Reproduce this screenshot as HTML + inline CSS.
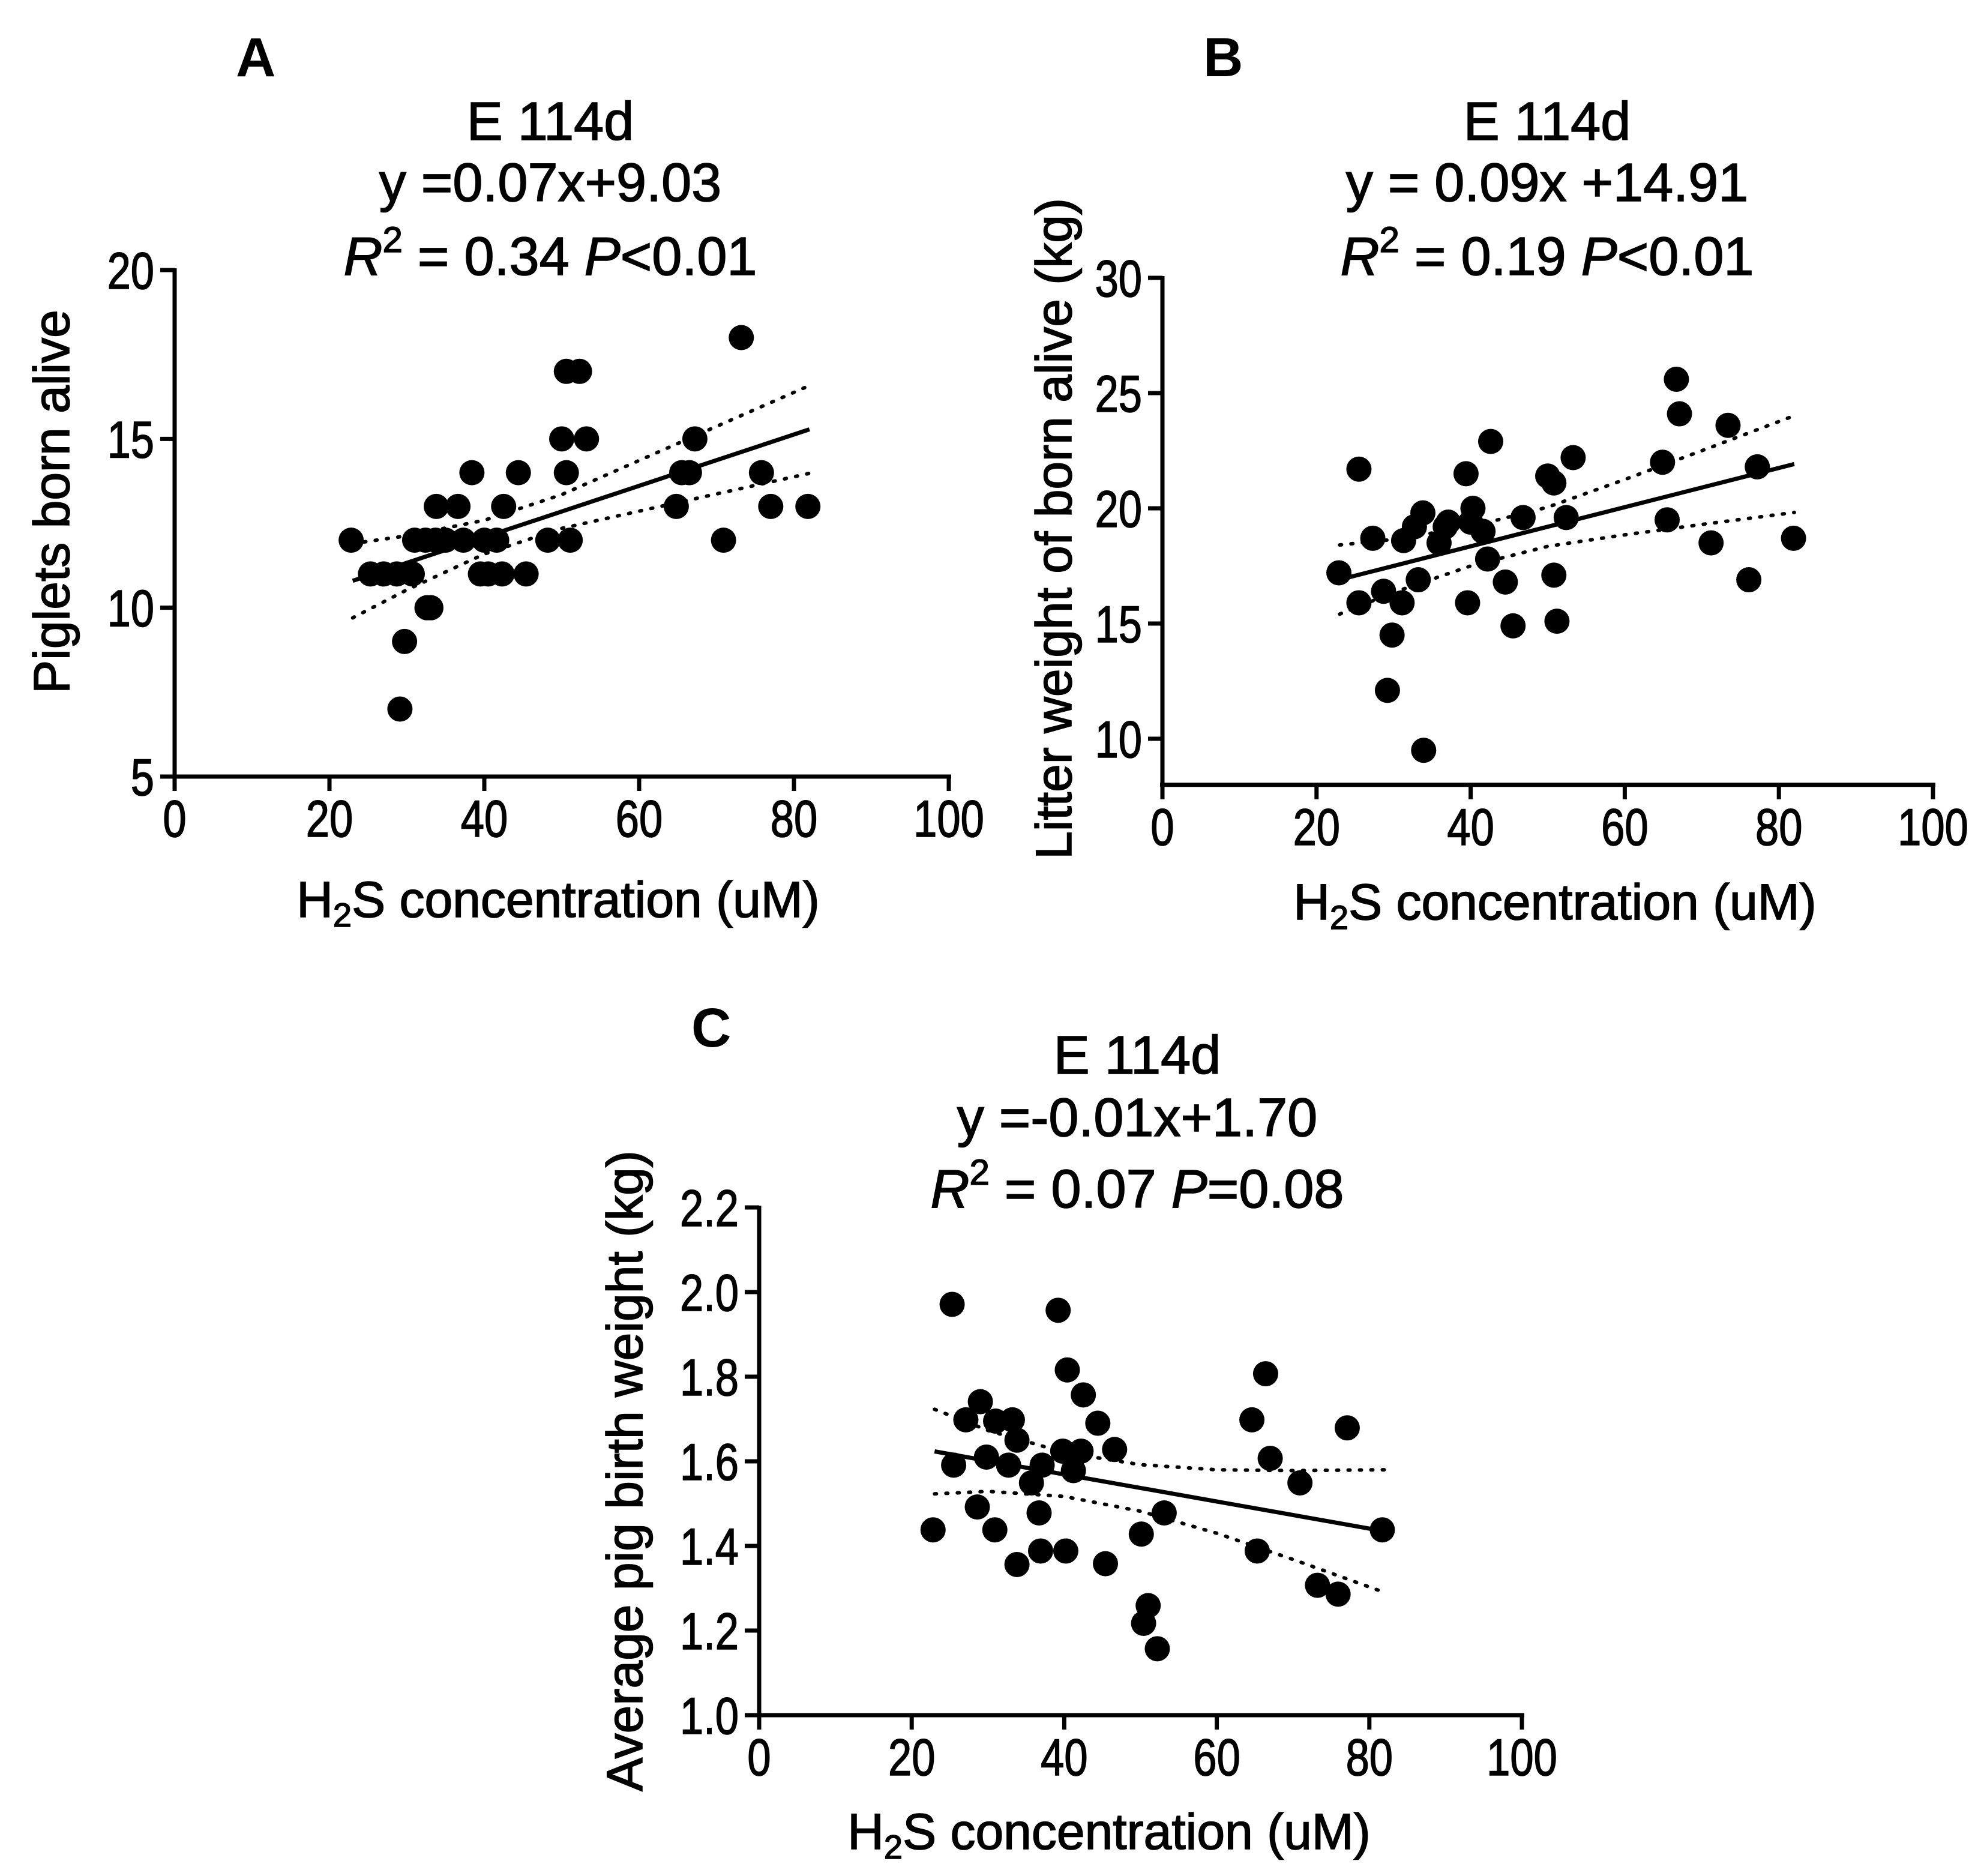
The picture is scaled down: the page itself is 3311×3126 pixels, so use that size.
<!DOCTYPE html>
<html><head><meta charset="utf-8"><style>
html,body{margin:0;padding:0;background:#fff;}
svg{display:block;}
text{font-family:"Liberation Sans",Arial,sans-serif;fill:#000;}
.bold1{stroke:#000;stroke-width:1.6px;}
</style></head><body>
<svg id="fig" width="3311" height="3126" viewBox="0 0 3311 3126" xmlns="http://www.w3.org/2000/svg"></svg>
<script>
// ---------- Panel A data ----------
const aX = [22.8,25.3,27,28.7,30.7,29.7,29.1,32.6,33.1,31,32.4,33.7,35,37.3,40,41.6,33.8,36.6,42.5,38.4,44.4,39.5,40.5,42.3,45.4,48.2,51.1,50,53.2,50.6,50.6,52.3,64.8,65.5,66.5,67.2,73.2,70.9,75.8,77,81.8];
const aY = [12,11,11,11,11,9,7,10,10,12,12,12,12,12,12,12,13,13,13,14,14,11,11,11,11,12,12,15,15,14,17,17,13,14,14,15,18,12,14,13,13];
const aFit = [0.076, 9.05];
const aCiX = [23,30,40,50,60,70,82];
const aCiUpper = [11.9,12.13,12.59,13.35,14.36,15.37,16.58];
const aCiLower = [9.7,10.53,11.59,12.35,12.86,13.37,13.98];
const aYTicks = [5,10,15,20];
const aYTickLabels = ["5","10","15","20"];
// ---------- Panel B data ----------
const bX = [22.9,25.5,25.5,27.3,28.7,29.8,29.2,31.1,31.3,32.7,33.2,33.8,33.9,35.9,36.7,37.1,39.4,39.6,40.3,40,41.6,42.2,42.6,44.5,45.5,46.8,50,50.8,50.8,51.2,52.4,53.3,64.9,65.5,66.7,67.1,71.2,73.4,76.1,77.2,81.9];
const bY = [17.2,21.7,15.9,18.7,16.4,14.5,12.1,15.9,18.6,19.2,16.9,19.8,9.5,18.5,19.2,19.4,21.5,15.9,20.0,19.4,19.0,17.8,22.9,16.8,14.9,19.6,21.4,21.1,17.1,15.1,19.6,22.2,22.0,19.5,25.6,24.1,18.5,23.6,16.9,21.8,18.7];
const bFit = [0.085, 14.95];
const bCiX = [23,30,40,50,60,70,82];
const bCiUpper = [18.41,18.65,19.2,20.05,21.25,22.5,24.02];
const bCiLower = [15.41,16.35,17.5,18.35,18.85,19.3,19.82];
const bYTicks = [10,15,20,25,30];
const bYTickLabels = ["10","15","20","25","30"];
// ---------- Panel C data ----------
const cX = [22.8,25.3,25.5,27.1,29.0,28.6,29.8,30.9,31.0,33.2,32.7,33.8,33.8,35.7,36.7,36.9,37.1,39.2,39.8,40.2,40.4,41.2,42.2,42.5,44.4,45.4,46.6,50.1,50.4,51.0,52.2,53.1,64.6,65.3,66.4,67.0,70.9,73.2,75.9,77.1,81.7];
const cY = [1.438,1.971,1.591,1.698,1.741,1.492,1.610,1.438,1.695,1.698,1.591,1.650,1.356,1.549,1.478,1.388,1.591,1.957,1.624,1.388,1.816,1.578,1.624,1.757,1.690,1.358,1.628,1.428,1.217,1.259,1.157,1.478,1.698,1.388,1.807,1.607,1.549,1.307,1.286,1.679,1.438];
const cFit = [-0.0032, 1.697];
const cCiX = [23,30,40,50,60,70,82];
const cCiUpper = [1.723,1.673,1.621,1.592,1.58,1.578,1.58];
const cCiLower = [1.523,1.529,1.517,1.482,1.43,1.368,1.29];
const cYTicks = [1.0,1.2,1.4,1.6,1.8,2.0,2.2];
const cYTickLabels = ["1.0","1.2","1.4","1.6","1.8","2.0","2.2"];
// shared x
const xTicks = [0,20,40,60,80,100];
const xTickLabels = ["0","20","40","60","80","100"];
const fitRange = [23, 82];

const NS = "http://www.w3.org/2000/svg";
const svg = document.getElementById('fig');
function el(tag, attrs, parent){
  const e = document.createElementNS(NS, tag);
  for (const k in attrs) e.setAttribute(k, attrs[k]);
  (parent||svg).appendChild(e);
  return e;
}

function panel(id, cfg){
  const g = el('g', {});
  
  
  const sx = v => cfg.px0 + (v - 0) / 100 * (cfg.px1 - cfg.px0);
  const sy = v => cfg.pyTop + (cfg.yMax - v) / (cfg.yMax - cfg.yTickMin) * (cfg.pyTick - cfg.pyTop);
  const yBottom = sy(cfg.yMin);
  const ya = el('line', {x1:sx(0), y1:sy(cfg.yMax)-3, x2:sx(0), y2:yBottom+4, stroke:'#000','stroke-width':7}, g);
  
  
  const xa = el('line', {x1:sx(0)-4, y1:yBottom, x2:sx(100)+4, y2:yBottom, stroke:'#000','stroke-width':7}, g);
  
  
  xTicks.forEach((t,i) => {
    const tk = el('line', {x1:sx(t), y1:yBottom, x2:sx(t), y2:yBottom+24, stroke:'#000','stroke-width':7}, g);
    
    
    const tl = el('text', {x:0, y:0, 'font-size':86, 'text-anchor':'middle', class:'bold1', transform:'translate('+sx(t)+','+(yBottom+100)+') scale(0.82,1)'}, g);
    tl.textContent = xTickLabels[i];
    
    
  });
  cfg.yTicks.forEach((t,i) => {
    const tk = el('line', {x1:sx(0)-24, y1:sy(t), x2:sx(0), y2:sy(t), stroke:'#000','stroke-width':7}, g);
    
    
    const tl = el('text', {x:0, y:0, 'font-size':86, 'text-anchor':'end', class:'bold1', transform:'translate('+(sx(0)-34)+','+(sy(t)+31)+') scale(0.82,1)'}, g);
    tl.textContent = cfg.yTickLabels[i];
    
    
  });
  [cfg.ciU, cfg.ciL].forEach((arr, k) => {
    const pts = cfg.ciX.map((x,i) => sx(x)+','+sy(arr[i])).join(' ');
    const p = el('polyline', {points:pts, fill:'none', stroke:'#000','stroke-width':6,'stroke-dasharray':'3 16','stroke-linecap':'round'}, g);
    
    
  });
  cfg.xs.forEach((x,i) => {
    const c = el('circle', {cx:sx(x), cy:sy(cfg.ys[i]), r:21, fill:'#000'}, g);
    
    
  });
  const fl = el('line', {x1:sx(fitRange[0]), y1:sy(cfg.fit[0]*fitRange[0]+cfg.fit[1]), x2:sx(fitRange[1]), y2:sy(cfg.fit[0]*fitRange[1]+cfg.fit[1]), stroke:'#000','stroke-width':7}, g);
  
  
  const t1 = el('text', {x:cfg.tcx, y:cfg.tb[0], 'font-size':90, 'text-anchor':'middle', class:'bold1'}, g);
  t1.textContent = 'E 114d';
  
  
  const t2 = el('text', {x:cfg.tcx, y:cfg.tb[1], 'font-size':90, 'text-anchor':'middle', class:'bold1'}, g);
  t2.textContent = cfg.eq;
  
  
  const t3 = el('text', {x:cfg.tcx, y:cfg.tb[2], 'font-size':90, 'text-anchor':'middle', class:'bold1'}, g);
  
  
  const s1 = el('tspan', {'font-style':'italic'}, t3); s1.textContent = 'R';
  const s2 = el('tspan', {'font-size':60, dy:-38}, t3); s2.textContent = '2';
  const s3 = el('tspan', {dy:38}, t3); s3.textContent = ' = ' + cfg.r2 + ' ';
  const s4 = el('tspan', {'font-style':'italic'}, t3); s4.textContent = 'P';
  const s5 = el('tspan', {}, t3); s5.textContent = cfg.p;
  const L = el('text', {x:cfg.lx, y:cfg.ly, 'font-size':92, 'font-weight':'bold'}, g);
  L.textContent = id;
  
  
  const xt = el('text', {x:cfg.xtx, y:cfg.xty, 'font-size':84, 'text-anchor':'middle', class:'bold1'}, g);
  
  
  const a1 = el('tspan', {}, xt); a1.textContent = 'H';
  const a2 = el('tspan', {'font-size':56, dy:16}, xt); a2.textContent = '2';
  const a3 = el('tspan', {dy:-16}, xt); a3.textContent = 'S concentration (uM)';
  const yt = el('text', {x:0, y:0, 'font-size':84, 'text-anchor':'middle', class:'bold1', transform:'translate('+cfg.ytx+','+cfg.yty+') rotate(-90)'}, g);
  yt.textContent = cfg.ylabel;
  
  
}

panel('A', {px0:291, px1:1581, pyTop:450, pyTick:1294, yMax:20, yTickMin:5, yMin:5,
  yTicks:aYTicks, yTickLabels:aYTickLabels, xs:aX, ys:aY, fit:aFit, ciX:aCiX, ciU:aCiUpper, ciL:aCiLower,
  tcx:917, tb:[233,335,458], eq:'y =0.07x+9.03', r2:'0.34', p:'<0.01', lx:393, ly:127,
  xtx:930, xty:1528, ytx:115, yty:836, ylabel:'Piglets born alive'});
panel('B', {px0:1937, px1:3221, pyTop:463, pyTick:1231, yMax:30, yTickMin:10, yMin:8,
  yTicks:bYTicks, yTickLabels:bYTickLabels, xs:bX, ys:bY, fit:bFit, ciX:bCiX, ciU:bCiUpper, ciL:bCiLower,
  tcx:2578, tb:[233,335,458], eq:'y = 0.09x +14.91', r2:'0.19', p:'<0.01', lx:2005, ly:127,
  xtx:2591, xty:1532, ytx:1785, yty:881, ylabel:'Litter weight of born alive (kg)'});
panel('C', {px0:1265, px1:2536, pyTop:2012, pyTick:2858, yMax:2.2, yTickMin:1.0, yMin:1.0,
  yTicks:cYTicks, yTickLabels:cYTickLabels, xs:cX, ys:cY, fit:cFit, ciX:cCiX, ciU:cCiUpper, ciL:cCiLower,
  tcx:1895, tb:[1789,1893,2012], eq:'y =-0.01x+1.70', r2:'0.07', p:'=0.08', lx:1152, ly:1744,
  xtx:1848, xty:3081, ytx:1070, yty:2451, ylabel:'Average pig birth weight (kg)'});
</script>
</body></html>
